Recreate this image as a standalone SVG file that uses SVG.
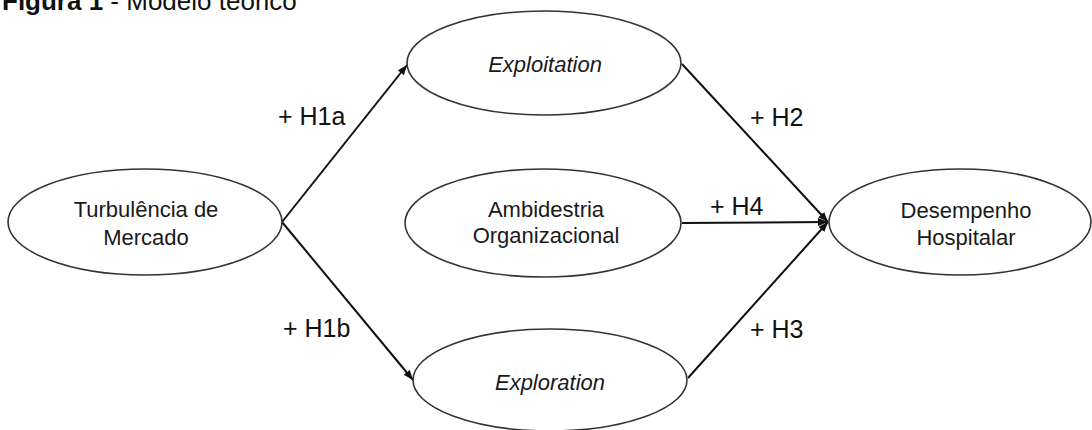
<svg xmlns="http://www.w3.org/2000/svg" width="1092" height="430" viewBox="0 0 1092 430">
<style>
.node ellipse{fill:#fff;stroke:#333;stroke-width:1.6}
.t{font-family:"Liberation Sans",Arial,sans-serif;font-size:22px;fill:#1a1a1a;text-anchor:middle}
.it{font-style:italic}
.lbl{font-family:"Liberation Sans",Arial,sans-serif;font-size:25px;fill:#111}
.edge{stroke:#111;stroke-width:2;fill:none}
.title{font-family:"Liberation Sans",Arial,sans-serif;font-size:26px;fill:#111}
</style>
<defs>
<marker id="ah" viewBox="0 0 10 8" refX="10" refY="4" markerWidth="10" markerHeight="8" markerUnits="userSpaceOnUse" orient="auto">
<path d="M0,0 L10,4 L0,8 Z" fill="#111"/>
</marker>
</defs>
<text class="title" x="2" y="10"><tspan font-weight="bold">Figura 1</tspan> - Modelo teórico</text>
<g id="connectors">
<line class="edge" x1="282" y1="222" x2="407" y2="65" marker-end="url(#ah)"/>
<line class="edge" x1="282" y1="222" x2="413" y2="380" marker-end="url(#ah)"/>
<line class="edge" x1="682" y1="64" x2="828" y2="222" marker-end="url(#ah)"/>
<line class="edge" x1="682" y1="223" x2="828" y2="222" marker-end="url(#ah)"/>
<line class="edge" x1="688" y1="378" x2="828" y2="222" marker-end="url(#ah)"/>
<text class="lbl" x="278" y="125">+ H1a</text>
<text class="lbl" x="283" y="337">+ H1b</text>
<text class="lbl" x="750" y="126">+ H2</text>
<text class="lbl" x="710" y="215">+ H4</text>
<text class="lbl" x="750" y="338">+ H3</text>
</g>
<g id="n-turbulencia" class="node">
<ellipse cx="145" cy="222" rx="137" ry="53"/>
<text class="t" x="146" y="217">Turbulência de</text>
<text class="t" x="146" y="245">Mercado</text>
</g>
<g id="n-exploitation" class="node">
<ellipse cx="544" cy="63" rx="137" ry="52"/>
<text class="t it" x="545" y="72">Exploitation</text>
</g>
<g id="n-ambidestria" class="node">
<ellipse cx="543" cy="223" rx="138" ry="54"/>
<text class="t" x="546" y="217">Ambidestria</text>
<text class="t" x="546" y="243">Organizacional</text>
</g>
<g id="n-exploration" class="node">
<ellipse cx="550" cy="380" rx="137" ry="51"/>
<text class="t it" x="550" y="390">Exploration</text>
</g>
<g id="n-desempenho" class="node">
<ellipse cx="960" cy="222" rx="131" ry="53"/>
<text class="t" x="966" y="218">Desempenho</text>
<text class="t" x="966" y="245">Hospitalar</text>
</g>
</svg>
